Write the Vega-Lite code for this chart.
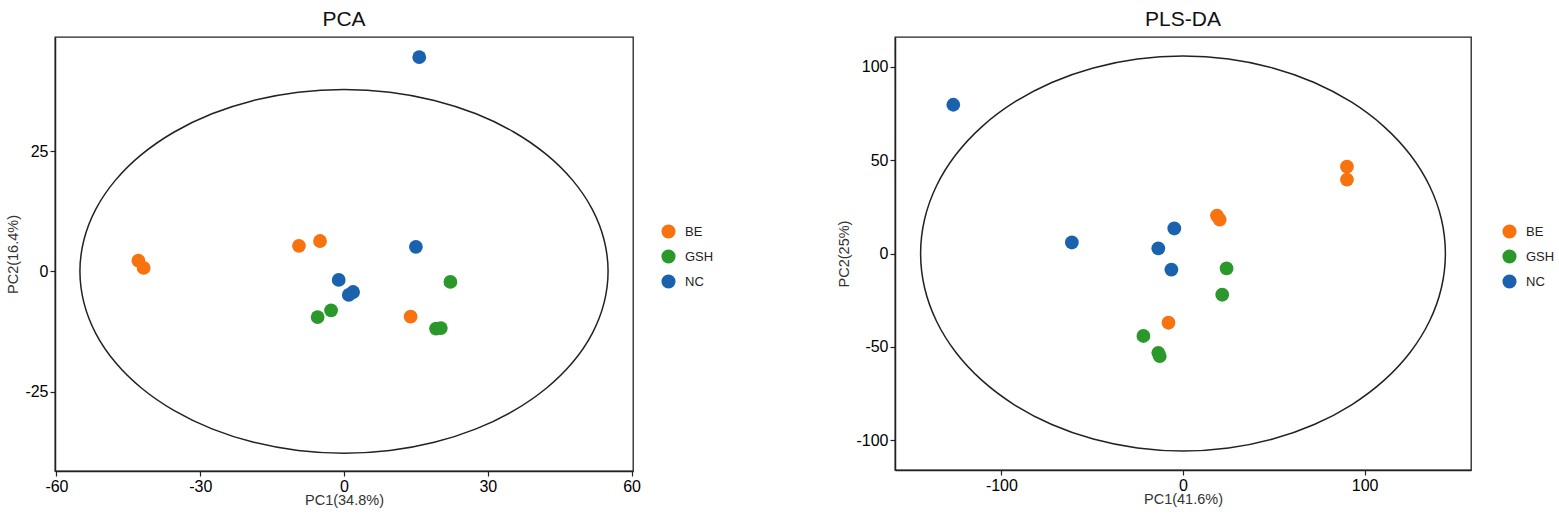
{
  "$schema": "https://vega.github.io/schema/vega-lite/v6.json",
  "background": "white",
  "padding": {"top": 8, "left": 5, "right": 5, "bottom": 5},
  "config": {
    "font": "Liberation Sans",
    "view": {"stroke": "#222222", "strokeWidth": 1.3},
    "axis": {
      "grid": false,
      "domainColor": "#222222",
      "domainWidth": 1.5,
      "tickColor": "#222222",
      "tickSize": 5,
      "tickWidth": 1.2,
      "labelFont": "Liberation Sans",
      "labelFontSize": 16,
      "labelColor": "#000000",
      "labelPadding": 2,
      "labelExpr": "replace(datum.label, '\u2212', '-')",
      "titleFont": "Liberation Sans",
      "titleFontSize": 14.5,
      "titleFontWeight": "normal",
      "titleColor": "#333333",
      "titlePadding": 3
    },
    "axisX": {"titlePadding": -1},
    "axisY": {"titlePadding": 4},
    "title": {"font": "Liberation Sans", "fontSize": 21, "fontWeight": "normal", "color": "#111111", "offset": 7},
    "legend": {
      "orient": "none",
      "title": null,
      "padding": 0,
      "symbolType": "circle",
      "symbolSize": 200,
      "symbolStrokeWidth": 0,
      "labelFont": "Liberation Sans",
      "labelFontSize": 13,
      "labelColor": "#222222",
      "rowPadding": 10,
      "labelOffset": 9
    }
  },
  "datasets": {
    "pca": [
      {"x": -42.9, "y": 2.2, "group": "BE"},
      {"x": -41.8, "y": 0.7, "group": "BE"},
      {"x": -9.4, "y": 5.3, "group": "BE"},
      {"x": -5.0, "y": 6.3, "group": "BE"},
      {"x": 13.9, "y": -9.4, "group": "BE"},
      {"x": -5.5, "y": -9.5, "group": "GSH"},
      {"x": -2.7, "y": -8.1, "group": "GSH"},
      {"x": 19.2, "y": -11.9, "group": "GSH"},
      {"x": 20.2, "y": -11.8, "group": "GSH"},
      {"x": 22.2, "y": -2.2, "group": "GSH"},
      {"x": 15.7, "y": 44.5, "group": "NC"},
      {"x": 15.0, "y": 5.1, "group": "NC"},
      {"x": -1.1, "y": -1.8, "group": "NC"},
      {"x": 1.0, "y": -4.9, "group": "NC"},
      {"x": 1.9, "y": -4.3, "group": "NC"}
    ],
    "pls": [
      {"x": 90.3, "y": 46.5, "group": "BE"},
      {"x": 90.3, "y": 39.6, "group": "BE"},
      {"x": 18.7, "y": 20.3, "group": "BE"},
      {"x": 20.2, "y": 18.2, "group": "BE"},
      {"x": -8.0, "y": -37.1, "group": "BE"},
      {"x": 24.0, "y": -8.0, "group": "GSH"},
      {"x": 21.6, "y": -22.1, "group": "GSH"},
      {"x": -21.8, "y": -44.2, "group": "GSH"},
      {"x": -13.6, "y": -53.2, "group": "GSH"},
      {"x": -12.8, "y": -55.0, "group": "GSH"},
      {"x": -126.5, "y": 79.7, "group": "NC"},
      {"x": -61.2, "y": 5.9, "group": "NC"},
      {"x": -13.6, "y": 2.7, "group": "NC"},
      {"x": -4.8, "y": 13.4, "group": "NC"},
      {"x": -6.4, "y": -8.6, "group": "NC"}
    ],
    "pca_ell": [
      {"i": 0, "x": 55.1, "y": 0}, {"i": 1, "x": 54.26, "y": 6.56}, {"i": 2, "x": 51.78, "y": 12.93},
      {"i": 3, "x": 47.72, "y": 18.9}, {"i": 4, "x": 42.21, "y": 24.3}, {"i": 5, "x": 35.42, "y": 28.96},
      {"i": 6, "x": 27.55, "y": 32.74}, {"i": 7, "x": 18.85, "y": 35.52}, {"i": 8, "x": 9.57, "y": 37.23},
      {"i": 9, "x": 0, "y": 37.8}, {"i": 10, "x": -9.57, "y": 37.23}, {"i": 11, "x": -18.85, "y": 35.52},
      {"i": 12, "x": -27.55, "y": 32.74}, {"i": 13, "x": -35.42, "y": 28.96}, {"i": 14, "x": -42.21, "y": 24.3},
      {"i": 15, "x": -47.72, "y": 18.9}, {"i": 16, "x": -51.78, "y": 12.93}, {"i": 17, "x": -54.26, "y": 6.56},
      {"i": 18, "x": -55.1, "y": 0}, {"i": 19, "x": -54.26, "y": -6.56}, {"i": 20, "x": -51.78, "y": -12.93},
      {"i": 21, "x": -47.72, "y": -18.9}, {"i": 22, "x": -42.21, "y": -24.3}, {"i": 23, "x": -35.42, "y": -28.96},
      {"i": 24, "x": -27.55, "y": -32.74}, {"i": 25, "x": -18.85, "y": -35.52}, {"i": 26, "x": -9.57, "y": -37.23},
      {"i": 27, "x": 0, "y": -37.8}, {"i": 28, "x": 9.57, "y": -37.23}, {"i": 29, "x": 18.85, "y": -35.52},
      {"i": 30, "x": 27.55, "y": -32.74}, {"i": 31, "x": 35.42, "y": -28.96}, {"i": 32, "x": 42.21, "y": -24.3},
      {"i": 33, "x": 47.72, "y": -18.9}, {"i": 34, "x": 51.78, "y": -12.93}, {"i": 35, "x": 54.26, "y": -6.56}
    ],
    "pls_ell": [
      {"i": 0, "x": 144.5, "y": 0}, {"i": 1, "x": 142.31, "y": 18.37}, {"i": 2, "x": 135.79, "y": 36.19},
      {"i": 3, "x": 125.14, "y": 52.9}, {"i": 4, "x": 110.69, "y": 68.01}, {"i": 5, "x": 92.88, "y": 81.05},
      {"i": 6, "x": 72.25, "y": 91.63}, {"i": 7, "x": 49.42, "y": 99.42}, {"i": 8, "x": 25.09, "y": 104.19},
      {"i": 9, "x": 0, "y": 105.8}, {"i": 10, "x": -25.09, "y": 104.19}, {"i": 11, "x": -49.42, "y": 99.42},
      {"i": 12, "x": -72.25, "y": 91.63}, {"i": 13, "x": -92.88, "y": 81.05}, {"i": 14, "x": -110.69, "y": 68.01},
      {"i": 15, "x": -125.14, "y": 52.9}, {"i": 16, "x": -135.79, "y": 36.19}, {"i": 17, "x": -142.31, "y": 18.37},
      {"i": 18, "x": -144.5, "y": 0}, {"i": 19, "x": -142.31, "y": -18.37}, {"i": 20, "x": -135.79, "y": -36.19},
      {"i": 21, "x": -125.14, "y": -52.9}, {"i": 22, "x": -110.69, "y": -68.01}, {"i": 23, "x": -92.88, "y": -81.05},
      {"i": 24, "x": -72.25, "y": -91.63}, {"i": 25, "x": -49.42, "y": -99.42}, {"i": 26, "x": -25.09, "y": -104.19},
      {"i": 27, "x": 0, "y": -105.8}, {"i": 28, "x": 25.09, "y": -104.19}, {"i": 29, "x": 49.42, "y": -99.42},
      {"i": 30, "x": 72.25, "y": -91.63}, {"i": 31, "x": 92.88, "y": -81.05}, {"i": 32, "x": 110.69, "y": -68.01},
      {"i": 33, "x": 125.14, "y": -52.9}, {"i": 34, "x": 135.79, "y": -36.19}, {"i": 35, "x": 142.31, "y": -18.37}
    ]
  },
  "spacing": 121,
  "resolve": {"scale": {"color": "independent", "x": "independent", "y": "independent"}, "legend": {"color": "independent"}},
  "hconcat": [
    {
      "title": {"text": "PCA"},
      "width": 578,
      "height": 434,
      "layer": [
        {
          "data": {"name": "pca_ell"},
          "mark": {"type": "line", "interpolate": "cardinal-closed", "color": "#222222", "strokeWidth": 1.5},
          "encoding": {
            "x": {"field": "x", "type": "quantitative", "scale": {"domain": [-60.3, 60.3], "nice": false, "zero": false},
                  "axis": {"title": "PC1(34.8%)", "values": [-60, -30, 0, 30, 60]}},
            "y": {"field": "y", "type": "quantitative", "scale": {"domain": [-41.5, 48.7], "nice": false, "zero": false},
                  "axis": {"title": "PC2(16.4%)", "values": [-25, 0, 25]}},
            "order": {"field": "i", "type": "quantitative"}
          }
        },
        {
          "mark": {"type": "rule", "color": "#BBBBBB", "strokeDash": [5, 4], "strokeWidth": 1.2},
          "encoding": {"x": {"datum": 0}}
        },
        {
          "mark": {"type": "rule", "color": "#BBBBBB", "strokeDash": [5, 4], "strokeWidth": 1.2},
          "encoding": {"y": {"datum": 0}}
        },
        {
          "data": {"name": "pca"},
          "mark": {"type": "circle", "size": 190, "opacity": 1},
          "encoding": {
            "x": {"field": "x", "type": "quantitative"},
            "y": {"field": "y", "type": "quantitative"},
            "color": {"field": "group", "type": "nominal",
                      "scale": {"domain": ["BE", "GSH", "NC"], "range": ["#F8720F", "#2A982B", "#1B62AE"]},
                      "legend": {"legendX": 606, "legendY": 187}}
          }
        }
      ]
    },
    {
      "title": {"text": "PLS-DA"},
      "width": 576,
      "height": 433,
      "layer": [
        {
          "data": {"name": "pls_ell"},
          "mark": {"type": "line", "interpolate": "cardinal-closed", "color": "#222222", "strokeWidth": 1.5},
          "encoding": {
            "x": {"field": "x", "type": "quantitative", "scale": {"domain": [-158.6, 158.6], "nice": false, "zero": false},
                  "axis": {"title": "PC1(41.6%)", "values": [-100, 0, 100]}},
            "y": {"field": "y", "type": "quantitative", "scale": {"domain": [-116, 116], "nice": false, "zero": false},
                  "axis": {"title": "PC2(25%)", "values": [-100, -50, 0, 50, 100]}},
            "order": {"field": "i", "type": "quantitative"}
          }
        },
        {
          "mark": {"type": "rule", "color": "#BBBBBB", "strokeDash": [5, 4], "strokeWidth": 1.2},
          "encoding": {"x": {"datum": 0}}
        },
        {
          "mark": {"type": "rule", "color": "#BBBBBB", "strokeDash": [5, 4], "strokeWidth": 1.2},
          "encoding": {"y": {"datum": 0}}
        },
        {
          "data": {"name": "pls"},
          "mark": {"type": "circle", "size": 190, "opacity": 1},
          "encoding": {
            "x": {"field": "x", "type": "quantitative"},
            "y": {"field": "y", "type": "quantitative"},
            "color": {"field": "group", "type": "nominal",
                      "scale": {"domain": ["BE", "GSH", "NC"], "range": ["#F8720F", "#2A982B", "#1B62AE"]},
                      "legend": {"legendX": 607, "legendY": 187}}
          }
        }
      ]
    }
  ]
}
